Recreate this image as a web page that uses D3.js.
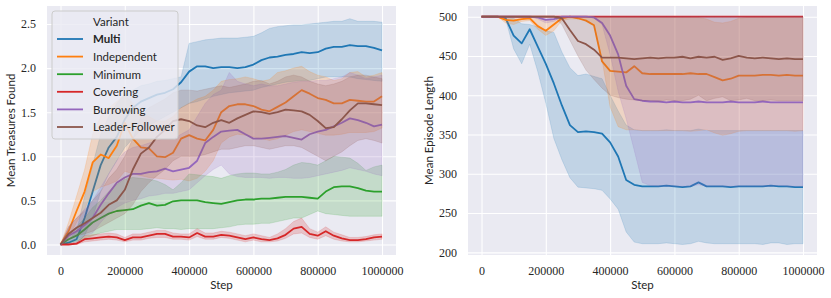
<!DOCTYPE html>
<html>
<head>
<meta charset="utf-8">
<script src="https://cdn.jsdelivr.net/npm/d3@7"></script>
<style>
  body { margin: 0; background: #ffffff; }
  .tick text { font-family: "Liberation Serif", serif; font-size: 12px; fill: #262626; }
  .lbl { font-family: Lato, sans-serif; font-size: 11.5px; fill: #262626; }
</style>
</head>
<body>
<div id="chart"></div>
<script>
// training steps shared by every curve
const steps = [0, 25000, 50000, 75000, 100000, 125000, 150000, 175000, 200000, 225000,
  250000, 275000, 300000, 325000, 350000, 375000, 400000, 425000, 450000, 475000,
  500000, 525000, 550000, 575000, 600000, 625000, 650000, 675000, 700000, 725000,
  750000, 775000, 800000, 825000, 850000, 875000, 900000, 925000, 950000, 975000, 1000000];

const variants = ["Multi", "Independent", "Minimum", "Covering", "Burrowing", "Leader-Follower"];
const variantColors = ["#1f77b4", "#ff7f0e", "#2ca02c", "#d62728", "#9467bd", "#8c564b"];

const stepTicks = [0, 200000, 400000, 600000, 800000, 1000000];
const treasureTicks = [0, 0.5, 1.0, 1.5, 2.0, 2.5];
const lengthTicks = [200, 250, 300, 350, 400, 450, 500];

// ---- Mean Treasures Found (mean, lower, upper) ----
const treasuresMulti = [0, 0.02, 0.06, 0.3, 0.6, 0.9, 1.1, 1.22, 1.42, 1.55, 1.62, 1.66, 1.7, 1.72, 1.76, 1.84, 1.96, 2.02, 2.02, 2.0, 2.01, 2.01, 2.0, 2.01, 2.04, 2.09, 2.12, 2.13, 2.15, 2.16, 2.18, 2.17, 2.18, 2.22, 2.24, 2.24, 2.26, 2.25, 2.25, 2.23, 2.2];
const treasuresMultiLo = [0, 0, 0.01, 0.1, 0.3, 0.6, 0.8, 0.95, 1.1, 1.2, 1.3, 1.35, 1.4, 1.45, 1.5, 1.55, 1.6, 1.62, 1.65, 1.68, 1.7, 1.72, 1.73, 1.74, 1.75, 1.78, 1.8, 1.82, 1.84, 1.85, 1.86, 1.86, 1.88, 1.9, 1.9, 1.9, 1.9, 1.88, 1.87, 1.86, 1.85];
const treasuresMultiHi = [0, 0.05, 0.15, 0.55, 0.9, 1.25, 1.45, 1.6, 1.7, 1.75, 1.8, 1.82, 1.85, 1.86, 1.88, 1.9, 2.28, 2.3, 2.32, 2.33, 2.34, 2.34, 2.34, 2.35, 2.36, 2.4, 2.45, 2.47, 2.48, 2.49, 2.49, 2.5, 2.51, 2.52, 2.53, 2.53, 2.56, 2.53, 2.53, 2.53, 2.52];

const treasuresIndependent = [0, 0.15, 0.38, 0.6, 0.93, 1.02, 0.98, 1.12, 1.38, 1.2, 1.1, 1.09, 1.0, 0.99, 1.04, 1.2, 1.24, 1.2, 1.18, 1.3, 1.5, 1.57, 1.59, 1.59, 1.57, 1.53, 1.51, 1.56, 1.61, 1.68, 1.75, 1.71, 1.66, 1.64, 1.6, 1.6, 1.64, 1.63, 1.62, 1.62, 1.68];
const treasuresIndependentLo = [0, 0.08, 0.25, 0.4, 0.6, 0.65, 0.68, 0.72, 0.83, 0.8, 0.78, 0.76, 0.75, 0.74, 0.73, 0.74, 0.72, 0.75, 0.83, 0.95, 1.15, 1.22, 1.25, 1.24, 1.22, 1.2, 1.18, 1.2, 1.24, 1.28, 1.3, 1.28, 1.26, 1.24, 1.24, 1.25, 1.27, 1.27, 1.27, 1.28, 1.32];
const treasuresIndependentHi = [0, 0.25, 0.55, 0.85, 1.25, 1.45, 1.55, 1.62, 1.7, 1.6, 1.5, 1.45, 1.4, 1.4, 1.45, 1.55, 1.6, 1.65, 1.68, 1.75, 1.85, 1.87, 1.88, 1.9, 1.88, 1.85, 1.87, 1.95, 1.97, 2.0, 2.02, 1.96, 1.92, 1.9, 1.86, 1.88, 1.95, 1.96, 1.9, 1.92, 1.95];

const treasuresMinimum = [0, 0.06, 0.1, 0.17, 0.25, 0.3, 0.35, 0.38, 0.39, 0.4, 0.44, 0.47, 0.44, 0.45, 0.49, 0.5, 0.5, 0.5, 0.48, 0.47, 0.46, 0.48, 0.5, 0.51, 0.51, 0.52, 0.52, 0.53, 0.54, 0.54, 0.54, 0.53, 0.52, 0.6, 0.65, 0.66, 0.66, 0.64, 0.61, 0.6, 0.6];
const treasuresMinimumLo = [0, 0.02, 0.04, 0.07, 0.1, 0.13, 0.15, 0.17, 0.17, 0.17, 0.17, 0.18, 0.19, 0.18, 0.18, 0.17, 0.18, 0.18, 0.18, 0.18, 0.19, 0.2, 0.22, 0.23, 0.23, 0.24, 0.24, 0.26, 0.28, 0.3, 0.3, 0.34, 0.38, 0.35, 0.34, 0.33, 0.32, 0.32, 0.32, 0.32, 0.32];
const treasuresMinimumHi = [0, 0.12, 0.2, 0.3, 0.42, 0.5, 0.6, 0.68, 0.74, 0.76, 0.75, 0.74, 0.72, 0.68, 0.62, 0.7, 0.8, 0.79, 0.78, 0.77, 0.75, 0.78, 0.8, 0.81, 0.81, 0.8, 0.8, 0.82, 0.85, 0.9, 0.93, 0.92, 0.9, 0.95, 1.0, 0.99, 0.98, 0.92, 0.84, 0.88, 0.9];

const treasuresCovering = [0, 0, 0.01, 0.06, 0.07, 0.08, 0.09, 0.08, 0.05, 0.08, 0.08, 0.1, 0.12, 0.12, 0.09, 0.09, 0.08, 0.13, 0.09, 0.09, 0.11, 0.1, 0.08, 0.06, 0.08, 0.06, 0.05, 0.07, 0.11, 0.18, 0.2, 0.12, 0.1, 0.15, 0.1, 0.07, 0.05, 0.05, 0.06, 0.08, 0.09];
const treasuresCoveringLo = [0, 0, 0, 0.03, 0.04, 0.05, 0.06, 0.05, 0.03, 0.05, 0.05, 0.07, 0.08, 0.08, 0.06, 0.06, 0.05, 0.09, 0.06, 0.06, 0.08, 0.07, 0.05, 0.03, 0.05, 0.03, 0.03, 0.04, 0.07, 0.12, 0.13, 0.08, 0.06, 0.1, 0.06, 0.04, 0.03, 0.03, 0.04, 0.05, 0.06];
const treasuresCoveringHi = [0, 0.01, 0.03, 0.1, 0.11, 0.12, 0.13, 0.12, 0.08, 0.12, 0.12, 0.14, 0.16, 0.16, 0.13, 0.12, 0.12, 0.18, 0.13, 0.13, 0.15, 0.14, 0.12, 0.1, 0.12, 0.1, 0.08, 0.12, 0.18, 0.26, 0.3, 0.18, 0.14, 0.2, 0.14, 0.11, 0.08, 0.08, 0.09, 0.11, 0.12];

const treasuresBurrowing = [0, 0.1, 0.15, 0.22, 0.3, 0.45, 0.58, 0.7, 0.76, 0.8, 0.8, 0.82, 0.83, 0.86, 0.83, 0.85, 0.87, 0.95, 1.15, 1.22, 1.28, 1.29, 1.3, 1.25, 1.2, 1.2, 1.21, 1.22, 1.23, 1.21, 1.19, 1.25, 1.28, 1.3, 1.34, 1.38, 1.43, 1.41, 1.38, 1.34, 1.36];
const treasuresBurrowingLo = [0, 0.03, 0.06, 0.1, 0.13, 0.25, 0.35, 0.42, 0.47, 0.5, 0.52, 0.55, 0.56, 0.58, 0.58, 0.6, 0.62, 0.7, 0.78, 0.85, 0.9, 0.8, 0.77, 0.76, 0.76, 0.76, 0.75, 0.76, 0.76, 0.75, 0.75, 0.76, 0.78, 0.8, 0.82, 0.84, 0.87, 0.85, 0.83, 0.8, 0.78];
const treasuresBurrowingHi = [0, 0.2, 0.3, 0.4, 0.5, 0.65, 0.8, 0.95, 1.05, 1.1, 1.12, 1.15, 1.18, 1.2, 1.2, 1.25, 1.3, 1.45, 1.6, 1.7, 1.75, 1.95, 1.85, 1.82, 1.8, 1.82, 1.8, 1.8, 1.82, 1.84, 1.85, 1.85, 1.86, 1.86, 1.88, 1.9, 1.95, 1.92, 1.88, 1.9, 1.92];

const treasuresLeader = [0, 0.12, 0.19, 0.24, 0.3, 0.36, 0.45, 0.5, 0.62, 0.85, 1.03, 1.1, 1.22, 1.3, 1.4, 1.42, 1.4, 1.35, 1.33, 1.38, 1.41, 1.38, 1.43, 1.47, 1.51, 1.5, 1.48, 1.5, 1.53, 1.52, 1.51, 1.47, 1.4, 1.32, 1.33, 1.42, 1.52, 1.6, 1.6, 1.59, 1.58];
const treasuresLeaderLo = [0, 0.05, 0.1, 0.12, 0.15, 0.2, 0.25, 0.3, 0.35, 0.45, 0.6, 0.7, 0.78, 0.85, 0.95, 1.0, 1.0, 1.0, 1.02, 1.05, 1.08, 1.08, 1.1, 1.12, 1.12, 1.1, 1.08, 1.1, 1.12, 1.12, 1.1, 1.05, 1.0, 0.95, 1.0, 1.05, 1.12, 1.18, 1.2, 1.18, 1.15];
const treasuresLeaderHi = [0, 0.2, 0.3, 0.38, 0.5, 0.6, 0.75, 0.85, 1.0, 1.2, 1.45, 1.55, 1.6, 1.65, 1.72, 1.75, 1.75, 1.74, 1.76, 1.78, 1.8, 1.78, 1.8, 1.82, 1.85, 1.86, 1.82, 1.85, 1.9, 1.92, 1.9, 1.85, 1.82, 1.8, 1.82, 1.85, 1.9, 1.92, 1.92, 1.9, 1.88];

// ---- Mean Episode Length (mean, lower, upper) ----
const lengthMulti = [500, 500, 500, 498, 476, 466, 484, 462, 440, 415, 387, 362, 353, 354, 353, 351, 340, 322, 292, 286, 284, 284, 284, 285, 284, 283, 284, 289, 284, 284, 284, 283, 284, 284, 284, 284, 285, 284, 284, 283, 283];
const lengthMultiLo = [500, 500, 500, 497, 459, 440, 465, 430, 390, 345, 318, 295, 283, 282, 281, 279, 268, 255, 226, 213, 211, 211, 211, 212, 211, 210, 211, 214, 212, 211, 211, 211, 211, 211, 211, 210, 212, 212, 210, 211, 211];
const lengthMultiHi = [500, 500, 500, 500, 498, 491, 490, 487, 482, 480, 455, 435, 425, 427, 424, 421, 400, 380, 362, 356, 355, 355, 355, 356, 355, 355, 355, 357, 355, 355, 355, 355, 355, 355, 355, 355, 355, 355, 355, 355, 355];

const lengthIndependent = [500, 500, 500, 496, 495, 497, 498, 488, 482, 490, 498, 500, 498, 495, 489, 443, 431, 430, 429, 437, 428, 427, 427, 427, 427, 427, 428, 427, 427, 423, 419, 421, 425, 425, 425, 426, 426, 425, 426, 425, 425];
const lengthIndependentLo = [500, 500, 500, 492, 490, 494, 495, 484, 476, 482, 495, 497, 497, 496, 489, 445, 385, 360, 356, 356, 355, 355, 355, 355, 355, 355, 354, 355, 356, 352, 349, 351, 354, 355, 355, 355, 355, 355, 355, 354, 355];
const lengthIndependentHi = [500, 500, 500, 499, 499, 500, 500, 498, 495, 497, 500, 500, 500, 500, 500, 500, 499, 499, 499, 499, 499, 499, 499, 499, 499, 499, 499, 499, 497, 493, 492, 494, 498, 499, 499, 499, 499, 499, 499, 499, 499];

const lengthCovering = [500, 500, 500, 500, 500, 500, 500, 500, 500, 500, 500, 500, 500, 500, 500, 500, 500, 500, 500, 500, 500, 500, 500, 500, 500, 500, 500, 500, 500, 500, 500, 500, 500, 500, 500, 500, 500, 500, 500, 500, 500];

const lengthBurrowing = [500, 500, 500, 500, 500, 500, 500, 499, 496, 497, 500, 500, 500, 500, 499, 492, 476, 452, 412, 395, 393, 392, 392, 391, 392, 391, 391, 392, 391, 391, 391, 392, 391, 391, 391, 392, 391, 391, 391, 391, 391];
const lengthBurrowingLo = [500, 500, 500, 500, 500, 500, 500, 497, 492, 494, 500, 500, 500, 500, 498, 490, 452, 405, 370, 330, 289, 285, 284, 284, 284, 284, 284, 286, 284, 284, 284, 284, 284, 284, 284, 284, 284, 285, 284, 284, 284];
const lengthBurrowingHi = [500, 500, 500, 500, 500, 500, 500, 500, 500, 500, 500, 500, 500, 500, 500, 500, 500, 500, 500, 500, 500, 500, 500, 500, 500, 500, 500, 500, 500, 500, 500, 500, 500, 500, 500, 500, 500, 500, 500, 500, 500];

const lengthLeader = [500, 500, 500, 500, 500, 500, 500, 500, 500, 500, 498, 483, 469, 465, 458, 448, 448, 448, 447, 446, 447, 448, 447, 448, 448, 449, 447, 449, 448, 449, 445, 447, 450, 448, 447, 448, 447, 446, 447, 446, 446];
const lengthLeaderLo = [500, 500, 500, 500, 500, 500, 500, 500, 500, 500, 490, 470, 450, 432, 420, 409, 400, 397, 395, 394, 393, 393, 392, 394, 393, 393, 395, 400, 393, 396, 398, 393, 394, 396, 393, 393, 394, 393, 393, 393, 393];
const lengthLeaderHi = [500, 500, 500, 500, 500, 500, 500, 500, 500, 500, 500, 500, 500, 500, 500, 500, 500, 500, 500, 500, 500, 500, 500, 500, 500, 500, 500, 500, 500, 500, 500, 500, 500, 500, 500, 500, 500, 500, 500, 500, 500];

const treasureSeries = [
  {name: "Multi", mean: treasuresMulti, lo: treasuresMultiLo, hi: treasuresMultiHi},
  {name: "Independent", mean: treasuresIndependent, lo: treasuresIndependentLo, hi: treasuresIndependentHi},
  {name: "Minimum", mean: treasuresMinimum, lo: treasuresMinimumLo, hi: treasuresMinimumHi},
  {name: "Covering", mean: treasuresCovering, lo: treasuresCoveringLo, hi: treasuresCoveringHi},
  {name: "Burrowing", mean: treasuresBurrowing, lo: treasuresBurrowingLo, hi: treasuresBurrowingHi},
  {name: "Leader-Follower", mean: treasuresLeader, lo: treasuresLeaderLo, hi: treasuresLeaderHi}
];
const lengthSeries = [
  {name: "Multi", mean: lengthMulti, lo: lengthMultiLo, hi: lengthMultiHi},
  {name: "Independent", mean: lengthIndependent, lo: lengthIndependentLo, hi: lengthIndependentHi},
  {name: "Covering", mean: lengthCovering, lo: lengthCovering, hi: lengthCovering},
  {name: "Burrowing", mean: lengthBurrowing, lo: lengthBurrowingLo, hi: lengthBurrowingHi},
  {name: "Leader-Follower", mean: lengthLeader, lo: lengthLeaderLo, hi: lengthLeaderHi}
];

const color = d3.scaleOrdinal().domain(variants).range(variantColors);

const svg = d3.select("#chart").append("svg")
  .attr("width", 831)
  .attr("height", 298)
  .style("display", "block");

function drawPanel(p) {
  let g = svg.append("g");

  let x = d3.scaleLinear().domain([-42000, 1043500]).range([p.left, p.right]);
  let y = d3.scaleLinear().domain(p.yDomain).range([p.bottom, p.top]);

  // grey background
  g.append("rect")
    .attr("x", p.left).attr("y", p.top)
    .attr("width", p.right - p.left).attr("height", p.bottom - p.top)
    .attr("fill", "#eaeaf2");

  // x axis + vertical grid
  let xa = g.append("g")
    .attr("transform", `translate(0,${p.bottom})`)
    .call(d3.axisBottom(x).tickValues(stepTicks).tickFormat(d3.format("d"))
      .tickSize(-(p.bottom - p.top)).tickPadding(11.5));
  // y axis + horizontal grid
  let ya = g.append("g")
    .attr("transform", `translate(${p.left},0)`)
    .call(d3.axisLeft(y).tickValues(p.yTicks).tickFormat(p.yFormat)
      .tickSize(-(p.right - p.left)).tickPadding(11));
  [xa, ya].forEach(a => {
    a.select(".domain").remove();
    a.selectAll(".tick line").attr("stroke", "#ffffff").attr("stroke-width", 1.1);
  });

  let area = d3.area()
    .x((d, i) => x(steps[i]))
    .y0(d => y(d[0]))
    .y1(d => y(d[1]));
  let line = d3.line()
    .x((d, i) => x(steps[i]))
    .y(d => y(d));

  p.series.forEach(s => {
    let c = color(s.name);
    g.append("path")
      .datum(s.lo.map((v, i) => [v, s.hi[i]]))
      .attr("d", area)
      .attr("fill", c).attr("fill-opacity", 0.2)
      .attr("stroke", c).attr("stroke-opacity", 0.2).attr("stroke-width", 0.8);
    g.append("path")
      .datum(s.mean)
      .attr("d", line)
      .attr("fill", "none")
      .attr("stroke", c).attr("stroke-width", 1.8)
      .attr("stroke-linejoin", "round");
  });

  // axis titles
  g.append("text").attr("class", "lbl")
    .attr("x", (p.left + p.right) / 2).attr("y", 289)
    .attr("text-anchor", "middle")
    .text("Step");
  g.append("text").attr("class", "lbl")
    .attr("transform", `translate(${p.yLabelX},${(p.top + p.bottom) / 2}) rotate(-90)`)
    .attr("text-anchor", "middle")
    .text(p.yLabel);

  return g;
}

let left = drawPanel({
  left: 47, right: 396, top: 6, bottom: 255,
  yDomain: [-0.119, 2.704], yTicks: treasureTicks, yFormat: d3.format(".1f"),
  yLabel: "Mean Treasures Found", yLabelX: 15,
  series: treasureSeries
});

drawPanel({
  left: 468, right: 817, top: 6, bottom: 255,
  yDomain: [196.6, 513.6], yTicks: lengthTicks, yFormat: d3.format("d"),
  yLabel: "Mean Episode Length", yLabelX: 433,
  series: lengthSeries
});

// legend on the left panel
let legend = left.append("g");
legend.append("rect")
  .attr("x", 52).attr("y", 11).attr("width", 126).attr("height", 128)
  .attr("rx", 3)
  .attr("fill", "#eaeaf2").attr("fill-opacity", 0.8)
  .attr("stroke", "#cccccc").attr("stroke-width", 1);
legend.append("text").attr("class", "lbl")
  .attr("x", 93).attr("y", 26)
  .text("Variant");
variants.forEach((v, i) => {
  let cy = 39 + i * 17.6;
  legend.append("line")
    .attr("x1", 57).attr("x2", 83).attr("y1", cy).attr("y2", cy)
    .attr("stroke", color(v)).attr("stroke-width", 1.8);
  legend.append("text").attr("class", "lbl")
    .attr("x", 93).attr("y", cy + 4.3)
    .style("font-weight", i === 0 ? "bold" : null)
    .text(v);
});
</script>
</body>
</html>
